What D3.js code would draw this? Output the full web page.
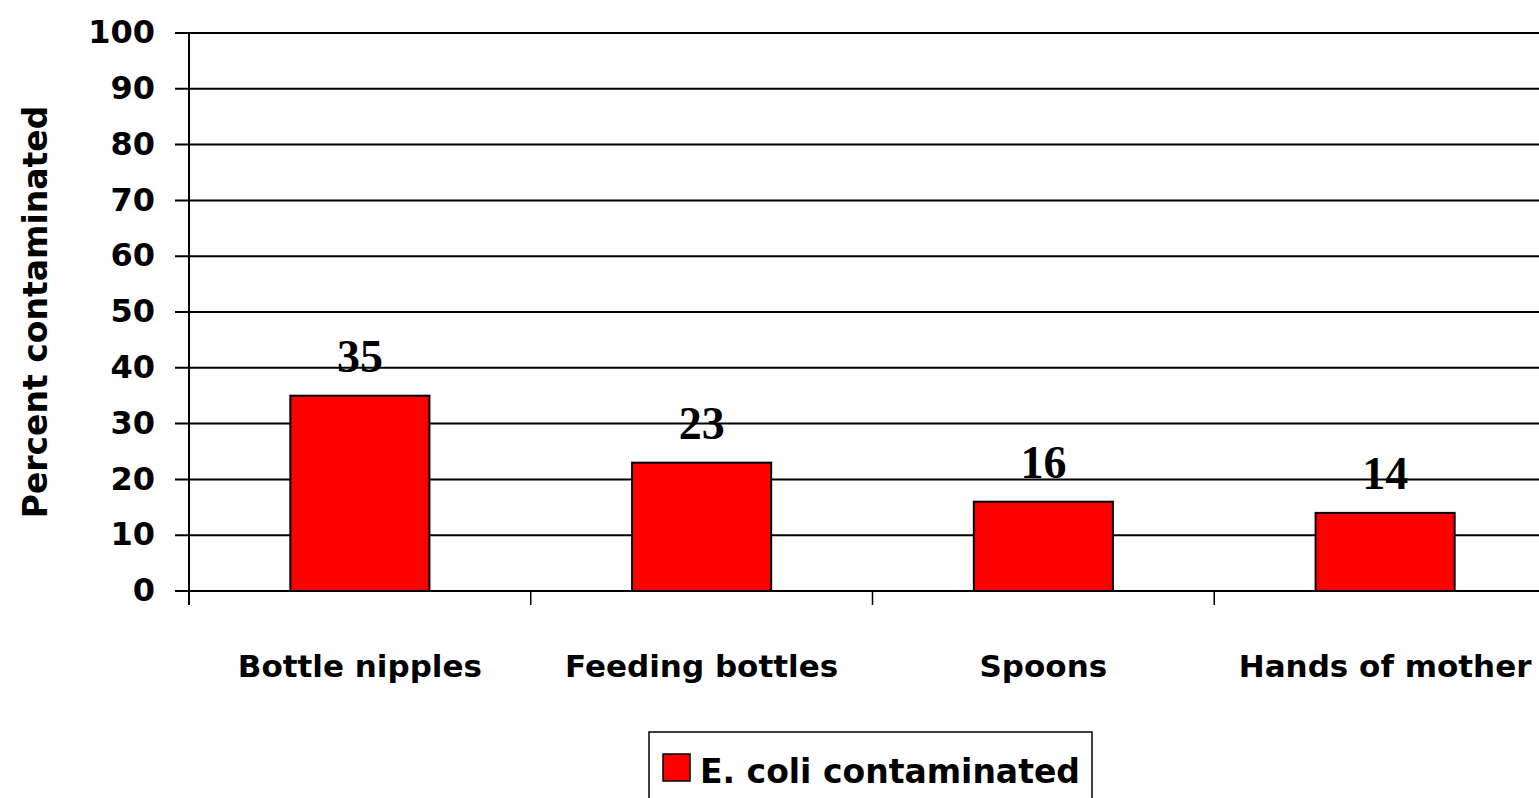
<!DOCTYPE html>
<html><head><meta charset="utf-8">
<script src="https://cdn.jsdelivr.net/npm/d3@7"></script>
<style>body{margin:0;background:#fff;overflow:hidden}svg{display:block}</style>
</head><body>
<svg id="c" width="1539" height="798"></svg>
<script>
const categories = ["Bottle nipples", "Feeding bottles", "Spoons", "Hands of mother"];
const values = [35, 23, 16, 14];
const yTicks = [0, 10, 20, 30, 40, 50, 60, 70, 80, 90, 100];
const seriesName = "E. coli contaminated";
const yTitle = "Percent contaminated";

(function () {
const svg = d3.select("#c");
const pLeft = 189, pRight = 1556, pTop = 33, pBottom = 591;
const sansFont = "'DejaVu Sans', 'Noto Sans', sans-serif";

const x = d3.scaleBand().domain(categories).range([pLeft, pRight]).padding(0);
const y = d3.scaleLinear().domain([0, 100]).range([pBottom, pTop]);

// gridlines
svg.append("g").selectAll("line").data(yTicks).join("line")
  .attr("x1", 175).attr("x2", 1539)
  .attr("y1", d => y(d)).attr("y2", d => y(d))
  .attr("stroke", "#000").attr("stroke-width", 2);

// y axis line
svg.append("line").attr("x1", pLeft).attr("x2", pLeft).attr("y1", pTop).attr("y2", 605)
  .attr("stroke", "#000").attr("stroke-width", 2);

// x ticks
const xTickPos = categories.map(c => x(c)).concat([x(categories[categories.length-1]) + x.bandwidth()]);
svg.append("g").selectAll("line").data(xTickPos).join("line")
  .attr("x1", d => d).attr("x2", d => d).attr("y1", pBottom).attr("y2", 605)
  .attr("stroke", "#000").attr("stroke-width", 1.5);

// y tick labels
svg.append("g").selectAll("text").data(yTicks).join("text")
  .attr("x", 155).attr("y", d => y(d)).attr("dy", "0.32em")
  .attr("text-anchor", "end")
  .attr("font-family", sansFont).attr("font-weight", "bold").attr("font-size", 32)
  .text(d => d);

// y title
svg.append("text")
  .attr("transform", "translate(47," + 312 + ") rotate(-90)")
  .attr("text-anchor", "middle")
  .attr("font-family", sansFont).attr("font-weight", "bold").attr("font-size", 33)
  .text(yTitle);

// bars
const bw = x.bandwidth() * 0.407;
svg.append("g").selectAll("rect").data(values).join("rect")
  .attr("x", (d, i) => x(categories[i]) + x.bandwidth() / 2 - bw / 2)
  .attr("width", bw)
  .attr("y", d => y(d))
  .attr("height", d => pBottom - y(d))
  .attr("fill", "#ff0000").attr("stroke", "#000").attr("stroke-width", 2);

// value labels
svg.append("g").selectAll("text").data(values).join("text")
  .attr("x", (d, i) => x(categories[i]) + x.bandwidth() / 2)
  .attr("y", d => y(d) - 24)
  .attr("text-anchor", "middle")
  .attr("font-family", "'Liberation Serif', 'Times New Roman', serif")
  .attr("font-weight", "bold").attr("font-size", 46)
  .text(d => d);

// x labels
svg.append("g").selectAll("text").data(categories).join("text")
  .attr("x", d => x(d) + x.bandwidth() / 2)
  .attr("y", 677)
  .attr("text-anchor", "middle")
  .attr("font-family", sansFont).attr("font-weight", "bold").attr("font-size", 31)
  .text(d => d);

// legend
const lg = svg.append("g");
lg.append("rect").attr("x", 649).attr("y", 732).attr("width", 443).attr("height", 80)
  .attr("fill", "#fff").attr("stroke", "#000").attr("stroke-width", 1.5);
lg.append("rect").attr("x", 663).attr("y", 754).attr("width", 27).attr("height", 27)
  .attr("fill", "#ff0000").attr("stroke", "#000").attr("stroke-width", 1.5);
lg.append("text").attr("x", 700).attr("y", 783)
  .attr("font-family", sansFont).attr("font-weight", "bold").attr("font-size", 33)
  .text(seriesName);
})();
</script>
</body></html>
